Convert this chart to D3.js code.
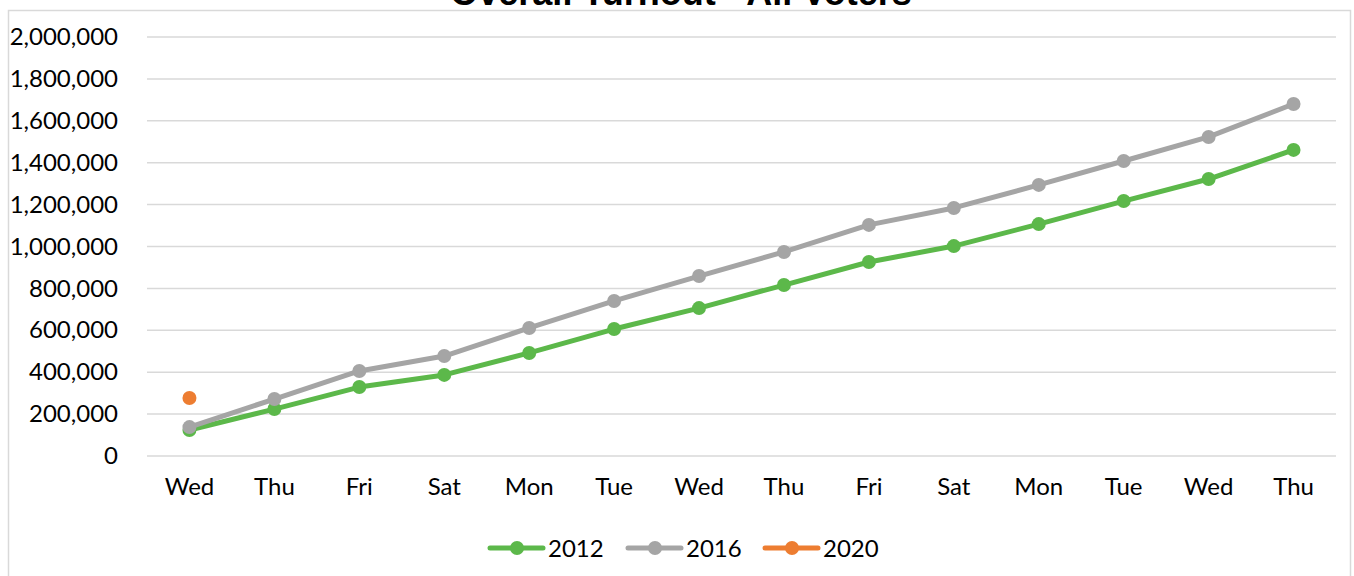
<!DOCTYPE html>
<html>
<head>
<meta charset="utf-8">
<script src="https://cdn.jsdelivr.net/npm/d3@7"></script>
<style>
  body { margin: 0; background: #fff; }
  svg { display: block; }
</style>
</head>
<body>
<div id="chart-area"></div>
<script>
const W = 1354
const H = 576
const MARGIN = { LEFT: 147, RIGHT: 18, TOP: 37, BOTTOM: 120 }
const WIDTH = W - MARGIN.LEFT - MARGIN.RIGHT
const HEIGHT = H - MARGIN.TOP - MARGIN.BOTTOM

// DATA
const days = ["Wed", "Thu", "Fri", "Sat", "Mon", "Tue", "Wed", "Thu", "Fri", "Sat", "Mon", "Tue", "Wed", "Thu"]
const turnout2012 = [124000, 224000, 329000, 387000, 492000, 606000, 706000, 816000, 926000, 1002000, 1107000, 1217000, 1322000, 1461000]
const turnout2016 = [138000, 272000, 406000, 477000, 611000, 740000, 859000, 974000, 1103000, 1184000, 1294000, 1408000, 1523000, 1680000]
const turnout2020 = [277000]
const yTicks = [0, 200000, 400000, 600000, 800000, 1000000, 1200000, 1400000, 1600000, 1800000, 2000000]

const series = [
  { name: "2012", values: turnout2012, color: "#5cb84a" },
  { name: "2016", values: turnout2016, color: "#a5a5a5" },
  { name: "2020", values: turnout2020, color: "#ed7d31" }
]

const svg = d3.select("#chart-area").append("svg")
  .attr("width", W)
  .attr("height", H)

// chart frame
svg.append("rect")
  .attr("x", 8.5).attr("y", 10.5)
  .attr("width", W - 12).attr("height", H)
  .attr("fill", "#fff")
  .attr("stroke", "#d9d9d9")
  .attr("stroke-width", 1.5)

// title (cut off at the top, as in the original)
svg.append("text")
  .attr("x", 681).attr("y", 5)
  .attr("text-anchor", "middle")
  .attr("font-family", "Liberation Sans, Arial, sans-serif")
  .attr("font-weight", "bold")
  .attr("font-size", 36)
  .attr("fill", "#000")
  .text("Overall Turnout - All Voters")

const g = svg.append("g")
  .attr("transform", `translate(${MARGIN.LEFT}, ${MARGIN.TOP})`)

// SCALES
const x = d3.scaleBand()
  .domain(d3.range(days.length))
  .range([0, WIDTH])

const y = d3.scaleLinear()
  .domain([0, 2000000])
  .range([HEIGHT, 0])

// GRID
g.append("g")
  .selectAll("line")
  .data(yTicks)
  .enter().append("line")
  .attr("x1", 0).attr("x2", WIDTH)
  .attr("y1", d => y(d)).attr("y2", d => y(d))
  .attr("stroke", "#d9d9d9")
  .attr("stroke-width", 1.5)

// AXES
const yAxisCall = d3.axisLeft(y)
  .tickValues(yTicks)
  .tickFormat(d3.format(","))
  .tickSize(0)
  .tickPadding(29)
const yAxisGroup = g.append("g").call(yAxisCall)
yAxisGroup.select(".domain").remove()
yAxisGroup.selectAll("text")
  .attr("font-family", "Lato, sans-serif")
  .attr("font-size", 24)
  .attr("fill", "#000")

const xAxisCall = d3.axisBottom(x)
  .tickFormat(i => days[i])
  .tickSize(0)
  .tickPadding(22)
const xAxisGroup = g.append("g")
  .attr("transform", `translate(0, ${HEIGHT})`)
  .call(xAxisCall)
xAxisGroup.select(".domain").remove()
xAxisGroup.selectAll("text")
  .attr("font-family", "Lato, sans-serif")
  .attr("font-size", 24)
  .attr("fill", "#000")

// LINES
const line = d3.line()
  .x((d, i) => x(i) + x.bandwidth() / 2)
  .y(d => y(d))

series.forEach(s => {
  g.append("path")
    .datum(s.values)
    .attr("fill", "none")
    .attr("stroke", s.color)
    .attr("stroke-width", 5)
    .attr("stroke-linejoin", "round")
    .attr("stroke-linecap", "round")
    .attr("d", line)

  g.selectAll(null)
    .data(s.values)
    .enter().append("circle")
    .attr("cx", (d, i) => x(i) + x.bandwidth() / 2)
    .attr("cy", d => y(d))
    .attr("r", 7)
    .attr("fill", s.color)
})

// LEGEND
const legend = svg.append("g")
  .attr("transform", "translate(488, 548)")
const legendX = [0, 138, 275]
series.forEach((s, i) => {
  const lg = legend.append("g").attr("transform", `translate(${legendX[i]}, 0)`)
  lg.append("line")
    .attr("x1", 2).attr("x2", 55)
    .attr("stroke", s.color)
    .attr("stroke-width", 5)
    .attr("stroke-linecap", "round")
  lg.append("circle")
    .attr("cx", 29).attr("r", 7)
    .attr("fill", s.color)
  lg.append("text")
    .attr("x", 60).attr("y", 8.5)
    .attr("font-family", "Lato, sans-serif")
    .attr("font-size", 24)
    .attr("fill", "#000")
    .text(s.name)
})
</script>
</body>
</html>
